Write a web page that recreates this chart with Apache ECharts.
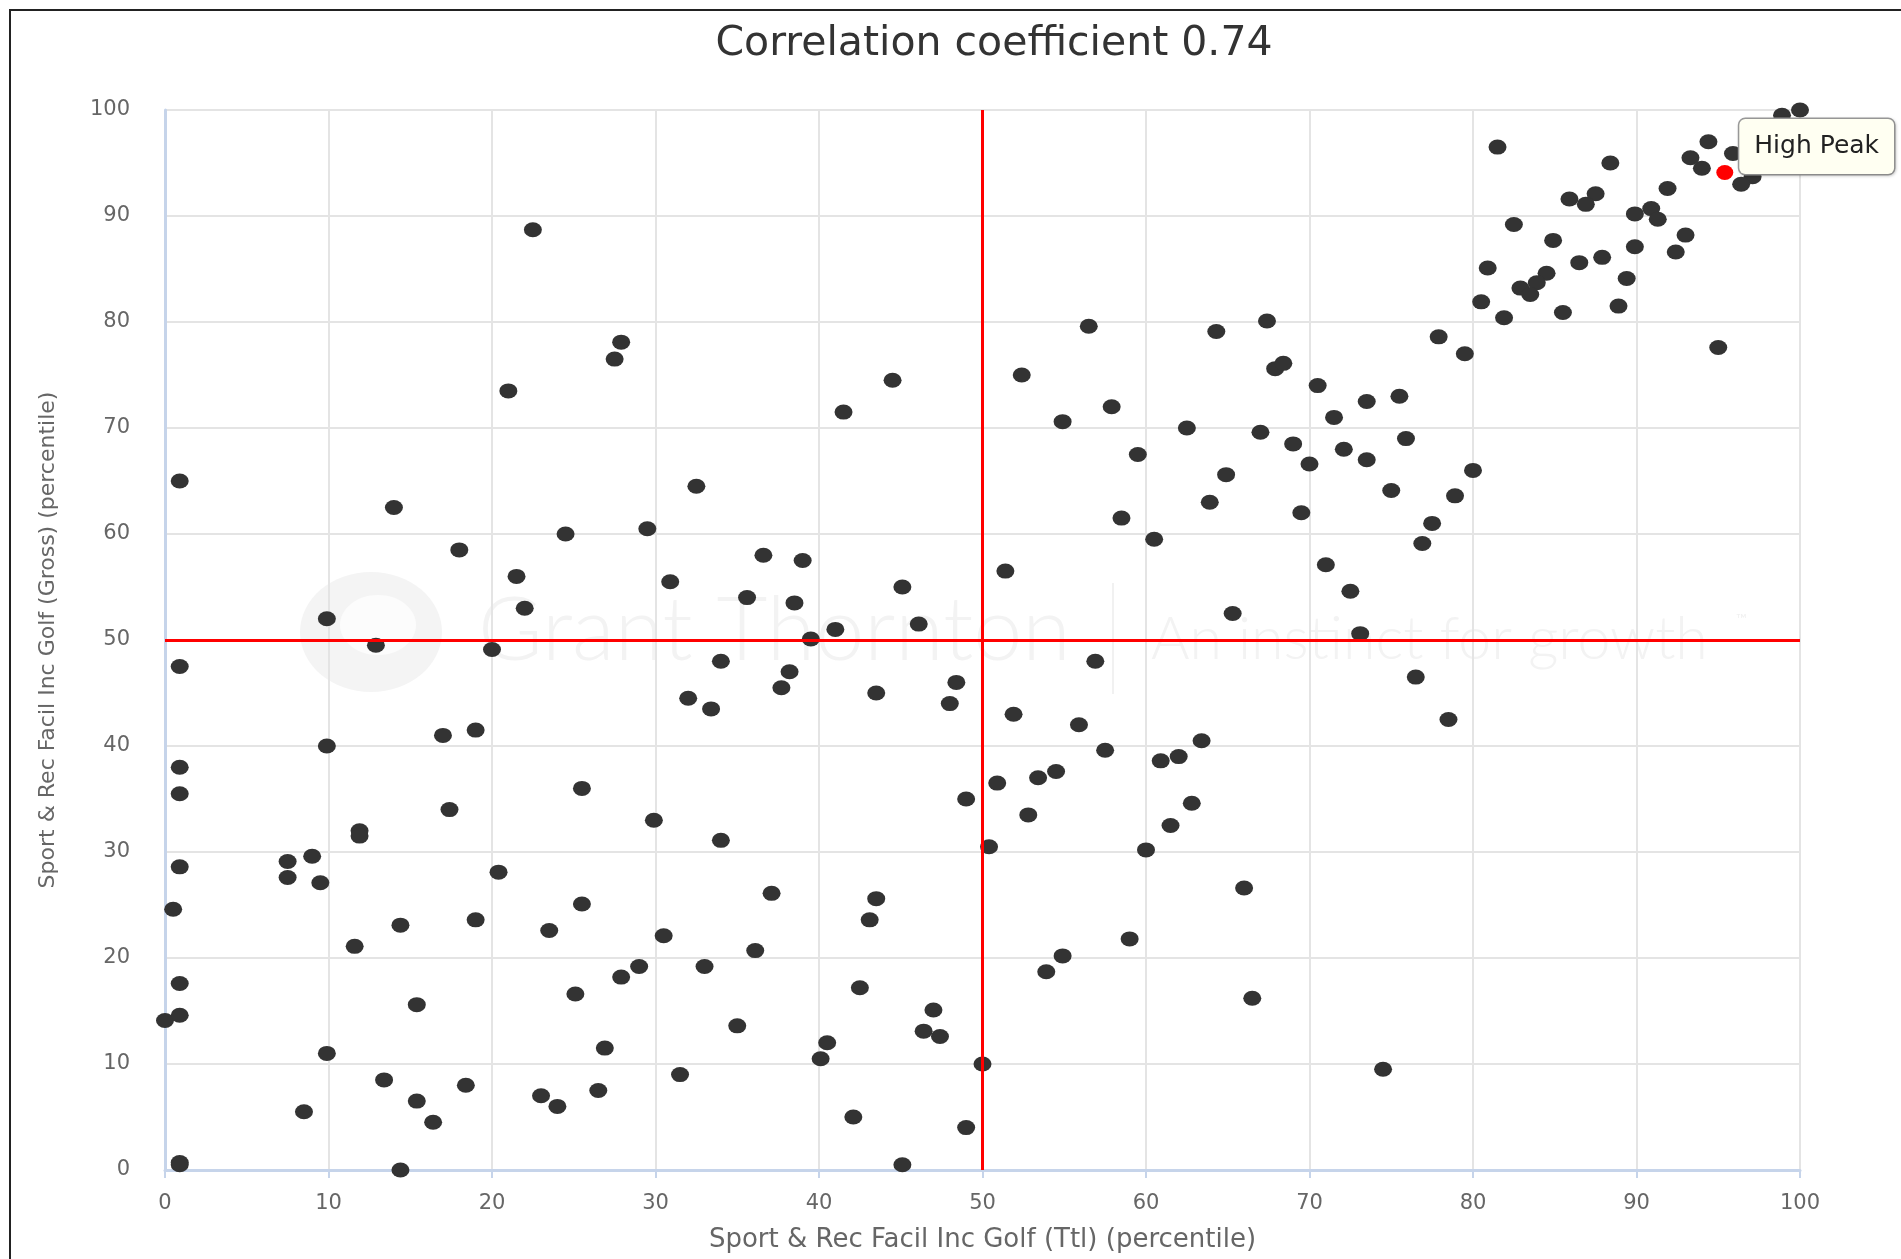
<!DOCTYPE html>
<html>
<head>
<meta charset="utf-8">
<title>Correlation coefficient 0.74</title>
<script src="https://cdn.jsdelivr.net/npm/echarts@6/dist/echarts.min.js"></script>
<style>
  html, body { margin: 0; padding: 0; background: #fff; }
  #chart { width: 1901px; height: 1259px; }
</style>
</head>
<body>
<div id="chart"></div>
<script>
// colours
const DOT_COLOR = '#333333';
const PEAK_COLOR = '#ff0000';
const AXIS_COLOR = '#c6d4ea';
const GRID_COLOR = '#e4e4e4';
const LABEL_COLOR = '#666666';
const FONT = "'DejaVu Sans', Verdana, sans-serif";

// x: Sport & Rec Facil Inc Golf (Ttl) percentile
const ttl = [
  22.5, 27.9, 27.5, 21.0, 44.5, 41.5, 52.4, 56.5, 54.9, 57.9,
  59.5, 62.5, 64.3, 67.4, 67.9, 68.4, 67.0, 64.9, 100, 98.9,
  94.4, 95.9, 93.3, 94.0, 97.1, 96.4, 81.5, 88.4, 91.9, 85.9,
  87.5, 86.9, 89.9, 90.9, 91.3, 82.5, 84.9, 93.0, 89.9, 92.4,
  86.5, 87.9, 80.9, 84.5, 83.9, 82.9, 83.5, 89.4, 80.5, 81.9,
  85.5, 88.9, 95.0, 77.9, 79.5, 70.5, 73.5, 75.5, 71.5, 69.0,
  72.1, 73.5, 75.9, 70.0, 80.0, 0.9, 14.0, 18.0, 24.5, 29.5,
  32.5, 21.5, 30.9, 22.0, 9.9, 12.9, 20.0, 0.9, 32.0, 33.4,
  17.0, 19.0, 9.9, 0.9, 0.9, 25.5, 17.4, 29.9, 11.9, 11.9,
  63.9, 58.5, 60.5, 36.6, 39.0, 51.4, 45.1, 35.6, 38.5, 65.3,
  46.1, 41.0, 39.5, 34.0, 56.9, 38.2, 37.7, 48.4, 43.5, 48.0,
  51.9, 55.9, 57.5, 63.4, 60.9, 62.0, 54.5, 53.4, 50.9, 49.0,
  52.8, 62.8, 61.5, 34.0, 50.4, 75.0, 78.9, 69.5, 77.5, 76.9,
  71.0, 72.5, 73.1, 76.5, 78.5, 0.9, 7.5, 9.0, 7.5, 9.5,
  20.4, 0.5, 25.5, 14.4, 19.0, 23.5, 11.6, 30.5, 0.9, 29.0,
  27.9, 33.0, 25.1, 15.4, 0.0, 0.9, 26.9, 9.9, 31.5, 13.4,
  18.4, 26.5, 8.5, 15.4, 23.0, 24.0, 16.4, 0.9, 0.9, 14.4,
  60.0, 37.1, 43.5, 43.1, 66.0, 36.1, 54.9, 53.9, 59.0, 42.5,
  66.5, 47.0, 35.0, 46.4, 47.4, 40.5, 40.1, 50.0, 42.1, 49.0,
  45.1, 74.5
];

// y: Sport & Rec Facil Inc Golf (Gross) percentile
const gross = [
  88.7, 78.1, 76.5, 73.5, 74.5, 71.5, 75.0, 79.6, 70.6, 72.0,
  67.5, 70.0, 79.1, 80.1, 75.6, 76.1, 69.6, 65.6, 100, 99.5,
  97.0, 95.9, 95.5, 94.5, 93.7, 93.0, 96.5, 95.0, 92.6, 91.6,
  92.1, 91.1, 90.2, 90.7, 89.7, 89.2, 87.7, 88.2, 87.1, 86.6,
  85.6, 86.1, 85.1, 84.6, 83.7, 83.2, 82.6, 84.1, 81.9, 80.4,
  80.9, 81.5, 77.6, 78.6, 77.0, 74.0, 72.5, 73.0, 71.0, 68.5,
  68.0, 67.0, 69.0, 66.6, 66.0, 65.0, 62.5, 58.5, 60.0, 60.5,
  64.5, 56.0, 55.5, 53.0, 52.0, 49.5, 49.1, 47.5, 44.5, 43.5,
  41.0, 41.5, 40.0, 38.0, 35.5, 36.0, 34.0, 33.0, 32.0, 31.5,
  63.0, 61.5, 59.5, 58.0, 57.5, 56.5, 55.0, 54.0, 53.5, 52.5,
  51.5, 51.0, 50.1, 48.0, 48.0, 47.0, 45.5, 46.0, 45.0, 44.0,
  43.0, 42.0, 39.6, 40.5, 38.6, 39.0, 37.6, 37.0, 36.5, 35.0,
  33.5, 34.6, 32.5, 31.1, 30.5, 64.1, 63.6, 62.0, 61.0, 59.1,
  57.1, 54.6, 50.6, 46.5, 42.5, 28.6, 29.1, 29.6, 27.6, 27.1,
  28.1, 24.6, 25.1, 23.1, 23.6, 22.6, 21.1, 22.1, 17.6, 19.2,
  18.2, 19.2, 16.6, 15.6, 14.1, 14.6, 11.5, 11.0, 9.0, 8.5,
  8.0, 7.5, 5.5, 6.5, 7.0, 6.0, 4.5, 0.5, 0.7, 0.0,
  30.2, 26.1, 25.6, 23.6, 26.6, 20.7, 20.2, 18.7, 21.8, 17.2,
  16.2, 15.1, 13.6, 13.1, 12.6, 12.0, 10.5, 10.0, 5.0, 4.0,
  0.5, 9.5
];

// highlighted authority
const peakName = 'High Peak';
const peakTtl = 95.4;
const peakGross = 94.1;

// median reference lines
const medianTtl = 50;
const medianGross = 50;

const axisTicks = [0, 10, 20, 30, 40, 50, 60, 70, 80, 90, 100];

const points = ttl.map((x, i) => [x, gross[i]]);

const chart = echarts.init(document.getElementById('chart'));

const valueAxis = (name, nameGap, nameSize, labelMargin, showTick) => ({
  type: 'value',
  min: axisTicks[0],
  max: axisTicks[axisTicks.length - 1],
  interval: axisTicks[1] - axisTicks[0],
  name: name,
  nameLocation: 'middle',
  nameGap: nameGap,
  nameTextStyle: { color: LABEL_COLOR, fontSize: nameSize, fontFamily: FONT },
  axisLine: { show: true, lineStyle: { color: AXIS_COLOR, width: 3 } },
  axisTick: { show: showTick, length: 8, lineStyle: { color: AXIS_COLOR, width: 2 } },
  axisLabel: { color: LABEL_COLOR, fontSize: 21, fontFamily: FONT, margin: labelMargin },
  splitLine: { show: true, lineStyle: { color: GRID_COLOR, width: 2 } }
});

const option = {
  backgroundColor: '#ffffff',
  animation: false,
  textStyle: { fontFamily: FONT },
  title: {
    text: 'Correlation coefficient 0.74',
    left: 989,
    textAlign: 'center',
    top: 19,
    textStyle: { color: '#333333', fontSize: 41, fontWeight: 'normal', fontFamily: FONT }
  },
  grid: { left: 165, right: 101, top: 110, bottom: 89 },
  xAxis: valueAxis('Sport & Rec Facil Inc Golf (Ttl) (percentile)', 57, 26, 23, true),
  yAxis: valueAxis('Sport & Rec Facil Inc Golf (Gross) (percentile)', 106, 22, 35, false),
  // faint watermark and outer frame
  graphic: [
    {
      type: 'group', silent: true, z: -1,
      children: [
        { type: 'ellipse', shape: { cx: 371, cy: 632, rx: 71, ry: 60 }, style: { fill: '#f4f4f4' } },
        { type: 'ellipse', shape: { cx: 378, cy: 625, rx: 38, ry: 30 }, style: { fill: '#fcfcfc' } },
        { type: 'text', x: 478, y: 632, style: { text: 'Grant Thornton', fill: '#f3f3f3', font: '300 88px Lato, sans-serif', textVerticalAlign: 'middle' } },
        { type: 'line', shape: { x1: 1113, y1: 583, x2: 1113, y2: 694 }, style: { stroke: '#f1f1f1', lineWidth: 2 } },
        { type: 'text', x: 1151, y: 640, style: { text: 'An instinct for growth', fill: '#f3f3f3', font: '300 59px Lato, sans-serif', textVerticalAlign: 'middle' } },
        { type: 'text', x: 1736, y: 612, style: { text: '\u2122', fill: '#f1f1f1', font: '14px Lato, sans-serif' } }
      ]
    },
    {
      type: 'polyline', silent: true,
      shape: { points: [[10, 1259], [10, 10], [1901, 10]] },
      style: { stroke: '#222222', lineWidth: 2, fill: null }
    }
  ],
  series: [
    {
      name: 'median',
      type: 'scatter',
      data: [],
      z: 1,
      markLine: {
        silent: true,
        symbol: ['none', 'none'],
        label: { show: false },
        lineStyle: { color: PEAK_COLOR, width: 3, type: 'solid' },
        data: [{ xAxis: medianTtl }, { yAxis: medianGross }]
      }
    },
    {
      name: 'Authorities',
      type: 'scatter',
      data: points,
      z: 3,
      clip: false,
      symbol: 'circle',
      symbolSize: [18, 15],
      itemStyle: { color: DOT_COLOR, opacity: 1 }
    },
    {
      name: peakName,
      type: 'scatter',
      data: [[peakTtl, peakGross]],
      z: 4,
      clip: false,
      symbol: 'circle',
      symbolSize: [17, 15],
      itemStyle: { color: PEAK_COLOR, opacity: 1 },
      label: {
        show: true,
        formatter: peakName,
        position: [23, -46],
        color: '#222222',
        fontSize: 25,
        lineHeight: 27,
        fontFamily: FONT,
        backgroundColor: '#fffff2',
        borderColor: '#9a9a9a',
        borderWidth: 1.5,
        borderRadius: 6,
        padding: [14, 15, 14, 15],
        shadowColor: 'rgba(0,0,0,0.15)',
        shadowBlur: 3,
        shadowOffsetX: 1,
        shadowOffsetY: 1
      }
    }
  ]
};

chart.setOption(option);
</script>
</body>
</html>
